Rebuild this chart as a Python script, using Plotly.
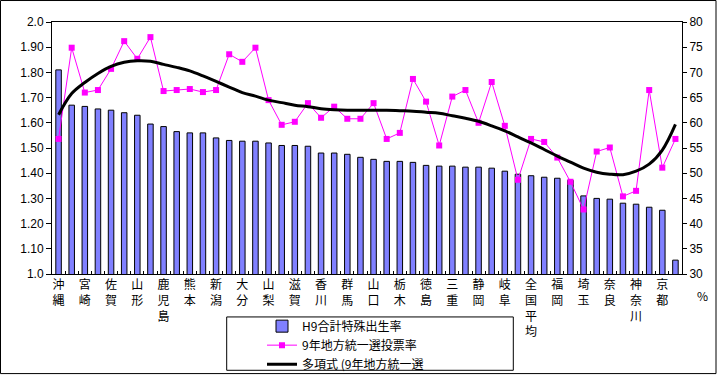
import plotly.graph_objects as go

# ---- data ----
prefectures = ["沖縄", "福島", "宮崎", "島根", "佐賀", "鳥取", "山形", "長崎",
               "鹿児島", "福井", "熊本", "長野", "新潟", "岩手", "大分", "青森",
               "山梨", "富山", "滋賀", "愛媛", "香川", "岡山", "群馬", "秋田",
               "山口", "茨城", "栃木", "和歌山", "徳島", "石川", "三重", "広島",
               "静岡", "高知", "岐阜", "愛知", "全国平均", "宮城", "福岡", "兵庫",
               "埼玉", "千葉", "奈良", "大阪", "神奈川", "北海道", "京都", "東京"]

shown_labels = ["沖縄", "宮崎", "佐賀", "山形", "鹿児島", "熊本", "新潟", "大分",
                "山梨", "滋賀", "香川", "群馬", "山口", "栃木", "徳島", "三重",
                "静岡", "岐阜", "全国平均", "福岡", "埼玉", "奈良", "神奈川", "京都"]

fertility_h9 = [1.81, 1.67, 1.665, 1.655, 1.65, 1.64, 1.63, 1.595,
                1.585, 1.565, 1.56, 1.56, 1.54, 1.53, 1.527, 1.527,
                1.52, 1.51, 1.51, 1.507, 1.48, 1.48, 1.475, 1.463,
                1.455, 1.447, 1.447, 1.443, 1.431, 1.428, 1.428, 1.424,
                1.424, 1.42, 1.408, 1.396, 1.39, 1.384, 1.38, 1.372,
                1.31, 1.30, 1.297, 1.281, 1.277, 1.265, 1.253, 1.055]

turnout_h9 = [56.8, 74.9, 66.0, 66.5, 70.7, 76.2, 72.7, 77.0,
              66.3, 66.5, 66.7, 66.1, 66.5, 73.6, 72.1, 74.9,
              64.5, 59.6, 60.2, 63.9, 61.0, 63.2, 60.8, 60.8,
              63.9, 56.8, 58.0, 68.7, 64.2, 55.5, 65.2, 66.5,
              60.0, 68.1, 59.4, 48.7, 56.8, 56.2, 53.1, 48.3,
              42.8, 54.3, 55.1, 45.4, 46.5, 66.5, 51.1, 56.8]

trend_values = [61.6, 65.8, 68.0, 69.8, 71.2, 72.0, 72.3, 72.2,
                71.6, 71.0, 70.3, 69.3, 68.2, 67.1, 66.0, 65.3,
                64.5, 64.0, 63.5, 63.2, 62.8, 62.6, 62.5, 62.5,
                62.5, 62.5, 62.4, 62.3, 62.1, 61.9, 61.4, 60.9,
                60.3, 59.4, 58.4, 57.2, 56.0, 54.7, 53.4, 52.2,
                51.0, 50.2, 49.8, 49.7, 50.4, 51.8, 54.6, 59.7]

left_ticks = [1.0, 1.1, 1.2, 1.3, 1.4, 1.5, 1.6, 1.7, 1.8, 1.9, 2.0]
left_tick_text = ["1.0", "1.10", "1.20", "1.30", "1.40", "1.50", "1.60", "1.70", "1.80", "1.90", "2.0"]

name_bar = "H9合計特殊出生率"
name_line = "9年地方統一選投票率"
name_trend = "多項式 (9年地方統一選"

FONT = "Noto Sans CJK JP"

tick_text = ["<br>".join(list(p)) if p in shown_labels else "" for p in prefectures]

fig = go.Figure()
fig.add_trace(go.Bar(
    x=prefectures, y=fertility_h9, name=name_bar,
    marker=dict(color="#8080ff", line=dict(color="black", width=1)),
    width=0.42, yaxis="y",
))
fig.add_trace(go.Scatter(
    x=prefectures, y=turnout_h9, name=name_line, mode="lines+markers",
    line=dict(color="#ff00ff", width=1),
    marker=dict(symbol="square", size=6, color="#ff00ff"),
    yaxis="y2",
))
fig.add_trace(go.Scatter(
    x=prefectures, y=trend_values, name=name_trend, mode="lines",
    line=dict(color="black", width=3, shape="spline", smoothing=1.0),
    yaxis="y2",
))

# plot area: x 52..682, y 22..274.3
L, R, T, B = 52, 682, 22, 274.3
W, H = 717, 375
pw, ph = R - L, B - T

def px_x(x):
    return (x - L) / pw

def px_y(y):
    return (B - y) / ph

fig.update_layout(
    width=W, height=H,
    margin=dict(l=L, r=W - R, t=T, b=H - B, autoexpand=False),
    paper_bgcolor="white", plot_bgcolor="white",
    font=dict(family=FONT, size=12, color="black"),
    showlegend=True,
    legend=dict(
        x=px_x(262), y=px_y(312), xanchor="left", yanchor="top",
        bgcolor="rgba(0,0,0,0)", borderwidth=0,
        font=dict(family=FONT, size=12, color="black"),
        tracegroupgap=0, itemwidth=30,
    ),
    xaxis=dict(
        type="category", tickmode="array", tickvals=prefectures, ticktext=tick_text,
        tickson="boundaries", ticks="inside", ticklen=3, tickcolor="black",
        showline=True, linecolor="black", linewidth=1, mirror=True,
        showgrid=False, tickangle=0,
        tickfont=dict(family=FONT, size=12, color="black"),
        range=[-0.5, len(prefectures) - 0.5],
    ),
    yaxis=dict(
        range=[1.0, 2.0], tickmode="array", tickvals=left_ticks, ticktext=left_tick_text,
        ticks="outside", ticklen=5, tickcolor="black",
        showline=True, linecolor="black", linewidth=1,
        showgrid=False, zeroline=False,
        tickfont=dict(family="Liberation Sans", size=12, color="black"),
    ),
    yaxis2=dict(
        range=[30, 80], dtick=5, tick0=30, overlaying="y", side="right",
        ticks="outside", ticklen=4, tickcolor="black",
        showline=True, linecolor="black", linewidth=1,
        showgrid=False, zeroline=False,
        tickfont=dict(family="Liberation Sans", size=12, color="black"),
    ),
    shapes=[
        dict(type="rect", xref="paper", yref="paper",
             x0=px_x(226.7), x1=px_x(513.3), y0=px_y(370.7), y1=px_y(317.3),
             line=dict(color="black", width=1), fillcolor="rgba(0,0,0,0)", layer="above"),
        dict(type="rect", xref="paper", yref="paper",
             x0=px_x(0.5), x1=px_x(716), y0=px_y(374), y1=px_y(0.5),
             line=dict(color="black", width=1), fillcolor="rgba(0,0,0,0)", layer="above"),
    ],
    annotations=[
        dict(text="%", xref="paper", yref="paper", x=px_x(702), y=px_y(296),
             xanchor="center", yanchor="middle",
             showarrow=False, font=dict(family=FONT, size=12, color="black")),
    ],
)

fig.write_html("out.html", config={"displayModeBar": False},
               post_script="document.body.style.margin='0';document.body.style.overflow='hidden';")
